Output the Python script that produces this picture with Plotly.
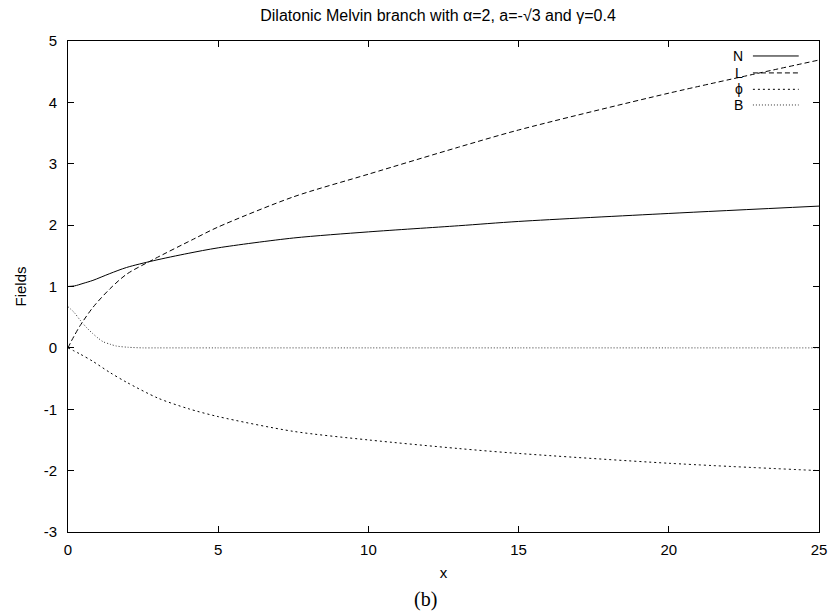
import plotly.graph_objects as go

# ---- data ----
x_N = [0, 0.22, 0.5, 0.83, 1.39, 1.95, 2.84, 4.0, 5, 7.5, 10, 13, 15, 20, 25]
N = [1.0, 1.01, 1.05, 1.10, 1.21, 1.31, 1.42, 1.54, 1.63, 1.79, 1.89, 1.99, 2.06, 2.19, 2.31]

x_L = [0, 0.1, 0.2, 0.4, 0.83, 1.39, 1.95, 2.84, 4.17, 5, 7.5, 10, 13, 15, 20, 25]
L = [0, 0.1, 0.19, 0.36, 0.66, 0.96, 1.2, 1.44, 1.77, 1.97, 2.46, 2.83, 3.27, 3.55, 4.15, 4.69]

x_phi = [0, 0.4, 0.83, 1.39, 1.95, 3.0, 4.0, 5, 7.5, 10, 13, 15, 20, 25]
phi = [0, -0.1, -0.22, -0.4, -0.56, -0.82, -0.99, -1.12, -1.36, -1.50, -1.64, -1.72, -1.88, -2.0]

x_B = [0, 0.2, 0.39, 0.6, 0.83, 1.0, 1.17, 1.4, 1.61, 2.0, 2.5, 3, 5, 10, 15, 20, 25]
B = [0.67, 0.58, 0.46, 0.34, 0.23, 0.16, 0.10, 0.06, 0.03, 0.01, 0.0, 0.0, 0.0, 0.0, 0.0, 0.0, 0.0]

x_ticks = [0, 5, 10, 15, 20, 25]
x_ticklabels = ["0", "5", "10", "15", "20", "25"]
y_ticks = [-3, -2, -1, 0, 1, 2, 3, 4, 5]
y_ticklabels = ["-3", "-2", "-1", "0", "1", "2", "3", "4", "5"]

series_names = ["N", "L", "\u03d5", "B"]
dashes = ["solid", "5px,3px", "2px,3px", "1px,2px"]
colors = ["black", "black", "black", "#333333"]

FONT = "Liberation Sans, Arial, sans-serif"

fig = go.Figure()
for xs, ys, name, d, c in zip([x_N, x_L, x_phi, x_B], [N, L, phi, B], series_names, dashes, colors):
    fig.add_trace(go.Scatter(x=xs, y=ys, mode="lines", name=name,
                             line=dict(color=c, width=1, dash=d, shape="spline", smoothing=0.8),
                             showlegend=False))

# manual gnuplot-style legend (text right, sample line at right)
leg_y = [0.9695, 0.935, 0.9016, 0.8697]
for name, d, c, yy in zip(series_names, dashes, colors, leg_y):
    fig.add_annotation(x=0.897, y=yy, xref="paper", yref="paper", text=name, showarrow=False,
                       xanchor="right", yanchor="middle", xshift=2, borderpad=0,
                       font=dict(family=FONT, size=14, color="black"))
    fig.add_shape(type="line", xref="paper", yref="paper", x0=0.912, x1=0.973, y0=yy, y1=yy,
                  line=dict(color=c, width=1, dash=d))

fig.add_annotation(x=0.5, y=-0.138, xref="paper", yref="paper", text="(b)", showarrow=False,
                   xanchor="center", yanchor="middle", xshift=-18,
                   font=dict(family="Liberation Serif, DejaVu Serif, serif", size=20, color="black"))

fig.update_layout(
    width=832, height=616,
    margin=dict(l=68, r=13, t=41, b=84),
    paper_bgcolor="white", plot_bgcolor="white",
    font=dict(family=FONT, size=15, color="black"),
    title=dict(text="Dilatonic Melvin branch with \u03b1=2, a=-\u221a3 and \u03b3=0.4",
               x=438 / 832, xanchor="center", y=1 - 15 / 616, yanchor="middle", yref="container",
               font=dict(family=FONT, size=16, color="black")),
    xaxis=dict(range=[0, 25], tickvals=x_ticks, ticktext=x_ticklabels, automargin=False,
               showgrid=False, zeroline=False, showline=True, linecolor="black", linewidth=1,
               mirror="ticks", ticks="inside", ticklen=6, tickcolor="black",
               ticklabelstandoff=4, tickfont=dict(size=15),
               title=dict(text="x", standoff=10, font=dict(size=15))),
    yaxis=dict(range=[-3, 5], tickvals=y_ticks, ticktext=y_ticklabels, automargin=False,
               showgrid=False, zeroline=False, showline=True, linecolor="black", linewidth=1,
               mirror="ticks", ticks="inside", ticklen=6, tickcolor="black",
               ticklabelstandoff=7, tickfont=dict(size=15),
               title=dict(text="Fields", standoff=13, font=dict(size=15))),
)

fig.write_html("out.html", config={"displayModeBar": False},
               post_script="document.body.style.margin='0';document.body.style.overflow='hidden';")
